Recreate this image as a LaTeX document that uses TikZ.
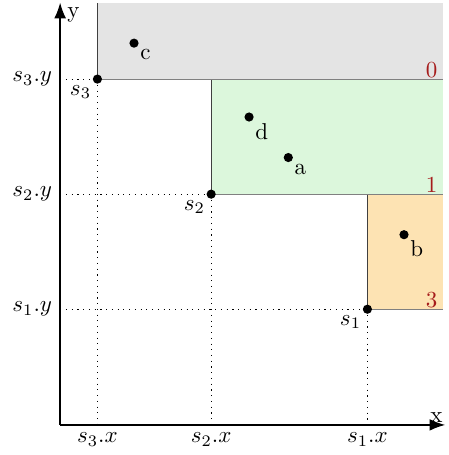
\documentclass[tikz,border=0pt]{standalone}
\usepackage{tikz}
\usetikzlibrary{arrows.meta,positioning}
\definecolor{palGray}{HTML}{E4E4E4}
\definecolor{palGreen}{HTML}{DCF7DC}
\definecolor{palOrange}{HTML}{FDE3B3}
\definecolor{palRed}{HTML}{A61C1C}

\begin{document}
\begin{tikzpicture}[
  dot/.style={circle, fill=black, inner sep=0pt, minimum size=4pt},
  lbl/.style={inner sep=1pt, label distance=0pt},
  guide/.style={dotted, line width=0.5pt},
  axis/.style={-{Latex[length=2.4mm, width=1.8mm]}, semithick},
  edge/.style={black!75, thin},
  base/.style={gray, thin},
  rank/.style={text=palRed, anchor=south east, inner sep=0.4pt, xshift=-2pt},
]
\useasboundingbox (-0.92,-0.46) rectangle (5.94,6.50);
\coordinate (O) at (0,0);
\coordinate (xend) at (5.89,0);
\coordinate (yend) at (0,6.46);
\coordinate (top) at (5.86,6.46);

% staircase points
\coordinate (s3) at (0.57,5.29);
\coordinate (s2) at (2.31,3.53);
\coordinate (s1) at (4.70,1.77);

% dominated regions
\fill[palGray] (s3) rectangle (top);
\fill[palGreen] (s2) rectangle (top |- s3);
\fill[palOrange] (s1) rectangle (top |- s2);
\draw[edge] (s3) -- (s3 |- top);
\draw[edge] (s2) -- (s2 |- s3);
\draw[edge] (s1) -- (s1 |- s2);
\draw[base] (s3) -- (top |- s3);
\draw[base] (s2) -- (top |- s2);
\draw[base] (s1) -- (top |- s1);
\node[rank] (r0) at (top |- s3) {0};
\node[rank] (r1) at (top |- s2) {1};
\node[rank] (r3) at (top |- s1) {3};

% guides to the axes
\foreach \s in {s1,s2,s3} {
  \draw[guide] (O |- \s) -- (\s);
  \draw[guide] (\s) -- (\s |- O);
}

% axes
\draw[axis] (O) -- (xend);
\draw[axis] (O) -- (yend);
\node[anchor=south east, inner sep=1pt] (xlab) at (xend) {x};
\node[anchor=north west, inner sep=2pt, xshift=1pt] (ylab) at (yend) {y};

\node[left] (s3y) at (O |- s3) {$s_3.y$};
\node[left] (s2y) at (O |- s2) {$s_2.y$};
\node[left] (s1y) at (O |- s1) {$s_1.y$};
\node[below] (s3x) at (s3 |- O) {$s_3.x$};
\node[below] (s2x) at (s2 |- O) {$s_2.x$};
\node[below] (s1x) at (s1 |- O) {$s_1.x$};

% points
\node[dot, label={[lbl]below left:$s_3$}] (p3) at (s3) {};
\node[dot, label={[lbl]below left:$s_2$}] (p2) at (s2) {};
\node[dot, label={[lbl]below left:$s_1$}] (p1) at (s1) {};
\node[dot, label={[lbl]below right:c}] (c) at (1.13,5.84) {};
\node[dot, label={[lbl]below right:d}] (d) at (2.89,4.71) {};
\node[dot, label={[lbl]below right:a}] (a) at (3.49,4.09) {};
\node[dot, label={[lbl]below right:b}] (b) at (5.26,2.91) {};
\end{tikzpicture}
\end{document}
